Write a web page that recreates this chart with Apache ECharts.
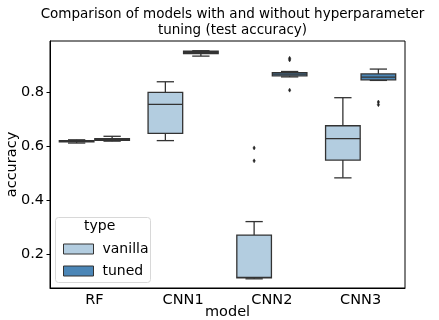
<!DOCTYPE html>
<html>
<head>
<meta charset="utf-8">
<script src="https://cdn.jsdelivr.net/npm/echarts@6/dist/echarts.min.js"></script>
<style>
html,body{margin:0;padding:0;background:#fff;}
#chart{width:439px;height:320px;}
</style>
</head>
<body>
<div id="chart"></div>
<script>
// ---- data ----
const categories = ['RF', 'CNN1', 'CNN2', 'CNN3'];
const hueNames = ['vanilla', 'tuned'];
// [min, Q1, median, Q3, max]
const vanillaStats = [
  [0.611, 0.615, 0.617, 0.620, 0.623],
  [0.620, 0.647, 0.754, 0.799, 0.838],
  [0.108, 0.112, 0.113, 0.270, 0.320],
  [0.482, 0.548, 0.627, 0.675, 0.779]
];
const tunedStats = [
  [0.618, 0.621, 0.624, 0.627, 0.636],
  [0.933, 0.942, 0.947, 0.951, 0.953],
  [0.856, 0.860, 0.866, 0.872, 0.876],
  [0.843, 0.845, 0.855, 0.867, 0.885]
];
// outliers: [categoryIndex, value]
const vanillaOutliers = [[2, 0.593], [2, 0.545]];
const tunedOutliers = [[2, 0.925], [2, 0.919], [2, 0.807], [3, 0.763], [3, 0.753]];
const yTicks = [0.2, 0.4, 0.6, 0.8];

const colors = ['#b3cde0', '#4b86b7'];
const lineColor = '#333333';
const FONT = 'DejaVu Sans';

function boxSeries(name, stats, hueIdx) {
  const hueOff = hueIdx === 0 ? -0.2 : 0.2;
  return {
    name: name,
    type: 'custom',
    z: 2,
    itemStyle: { color: colors[hueIdx], borderColor: lineColor, borderWidth: 1 },
    data: stats.map((s, i) => [i].concat(s)),
    encode: { x: 0, y: [1, 2, 3, 4, 5] },
    renderItem: function (params, api) {
      const c = api.value(0);
      const band = api.size([1, 0])[0];
      const bw = band * 0.39;
      const cx = api.coord([c, 0])[0] + hueOff * band;
      const y = [1, 2, 3, 4, 5].map(k => api.coord([c, api.value(k)])[1]);
      const st = { stroke: lineColor, lineWidth: 1.3 };
      return {
        type: 'group',
        children: [
          { type: 'line', shape: { x1: cx, y1: y[0], x2: cx, y2: y[1] }, style: st },
          { type: 'line', shape: { x1: cx, y1: y[3], x2: cx, y2: y[4] }, style: st },
          { type: 'line', shape: { x1: cx - bw / 4, y1: y[0], x2: cx + bw / 4, y2: y[0] }, style: st },
          { type: 'line', shape: { x1: cx - bw / 4, y1: y[4], x2: cx + bw / 4, y2: y[4] }, style: st },
          { type: 'rect', shape: { x: cx - bw / 2, y: y[3], width: bw, height: y[1] - y[3] },
            style: { fill: colors[hueIdx], stroke: lineColor, lineWidth: 1.3 } },
          { type: 'line', shape: { x1: cx - bw / 2, y1: y[2], x2: cx + bw / 2, y2: y[2] }, style: st }
        ]
      };
    }
  };
}

function outlierSeries(name, pts, hueIdx) {
  const hueOff = hueIdx === 0 ? -0.2 : 0.2;
  return {
    name: name,
    type: 'custom',
    z: 2,
    itemStyle: { color: colors[hueIdx] },
    data: pts,
    encode: { x: 0, y: 1 },
    renderItem: function (params, api) {
      const band = api.size([1, 0])[0];
      const p = api.coord([api.value(0), api.value(1)]);
      const x = p[0] + hueOff * band, y = p[1];
      return {
        type: 'polygon',
        shape: { points: [[x, y - 2], [x + 1.2, y], [x, y + 2], [x - 1.2, y]] },
        style: { fill: '#222', stroke: '#222', lineWidth: 0.5 }
      };
    }
  };
}

const chart = echarts.init(document.getElementById('chart'), null, { renderer: 'canvas' });
chart.setOption({
  animation: false,
  backgroundColor: '#fff',
  title: {
    text: 'Comparison of models with and without hyperparameter\ntuning (test accuracy)',
    left: 227.5,
    top: 1,
    textAlign: 'center',
    textStyle: { fontFamily: FONT, fontSize: 13.5, fontWeight: 'normal', color: '#000', lineHeight: 16, align: 'center' }
  },
  grid: { left: 50, right: 34, top: 41, bottom: 32, show: true, borderColor: '#000', borderWidth: 1,
    containLabel: false, outerBoundsMode: 'none' },
  legend: {
    data: hueNames,
    orient: 'vertical',
    left: 58,
    top: 237,
    z: 10,
    itemWidth: 30,
    itemHeight: 10,
    itemGap: 8,
    icon: 'rect',
    itemStyle: { borderColor: lineColor, borderWidth: 1 },
    textStyle: { fontFamily: FONT, fontSize: 14, color: '#000', padding: [0, 0, 0, 4] },
    selectedMode: false
  },
  graphic: [
    { type: 'rect', left: 55, top: 217, z: 3,
      shape: { width: 95, height: 65, r: 3 },
      style: { fill: 'rgba(255,255,255,0.85)', stroke: '#d8d8d8', lineWidth: 1 } },
    { type: 'text', left: 84, top: 219, z: 11,
      style: { text: 'type', fontFamily: FONT, fontSize: 14, fill: '#000' } }
  ],
  xAxis: {
    type: 'category',
    data: categories,
    name: 'model',
    nameLocation: 'middle',
    nameGap: 17,
    nameMoveOverlap: false,
    nameTextStyle: { fontFamily: FONT, fontSize: 14.5, color: '#000' },
    axisLine: { lineStyle: { color: '#000', width: 1 } },
    axisTick: { alignWithLabel: true, length: 3.5, lineStyle: { color: '#000' } },
    axisLabel: { fontFamily: FONT, fontSize: 14.5, color: '#000', margin: 5 },
    splitLine: { show: false }
  },
  yAxis: {
    type: 'value',
    min: 0.074,
    max: 0.989,
    name: 'accuracy',
    nameLocation: 'middle',
    nameGap: 30,
    nameMoveOverlap: false,
    nameTextStyle: { fontFamily: FONT, fontSize: 14.5, color: '#000' },
    axisLine: { show: true, lineStyle: { color: '#000', width: 1 } },
    axisTick: { show: true, length: 3.5, customValues: yTicks, lineStyle: { color: '#000' } },
    axisLabel: { fontFamily: FONT, fontSize: 14.5, color: '#000', margin: 6, customValues: yTicks,
      formatter: v => v.toFixed(1) },
    splitLine: { show: false }
  },
  series: [
    boxSeries('vanilla', vanillaStats, 0),
    boxSeries('tuned', tunedStats, 1),
    outlierSeries('vanilla outliers', vanillaOutliers, 0),
    outlierSeries('tuned outliers', tunedOutliers, 1)
  ]
});
</script>
</body>
</html>
